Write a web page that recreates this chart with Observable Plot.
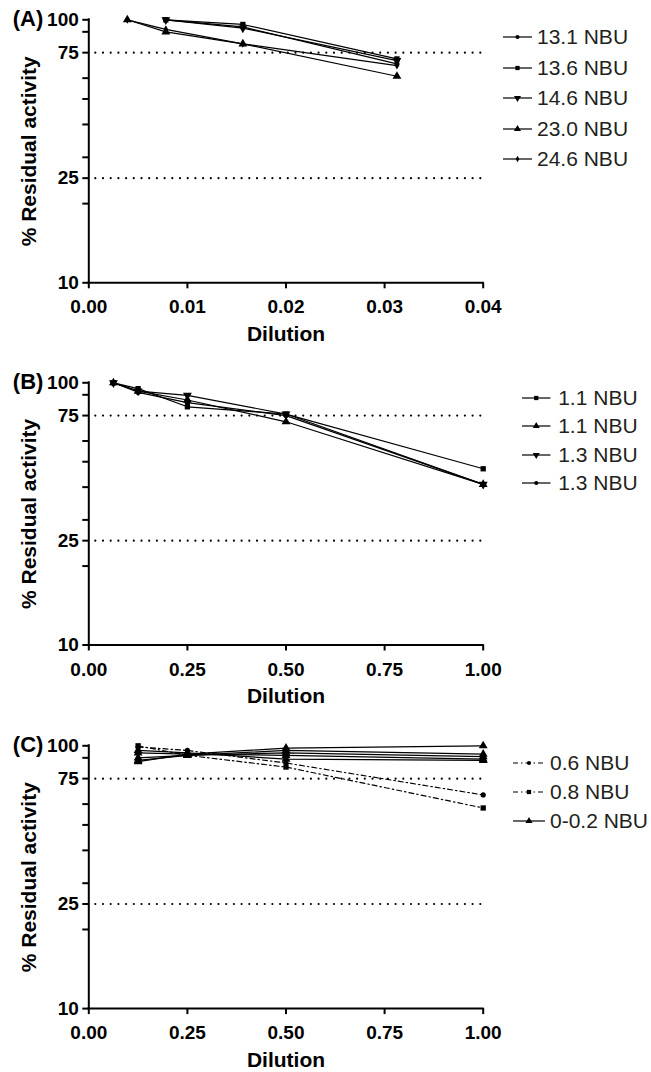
<!DOCTYPE html>
<html><head><meta charset="utf-8">
<script src="https://cdn.jsdelivr.net/npm/d3@7"></script>
<script src="https://cdn.jsdelivr.net/npm/@observablehq/plot@0.6"></script>
<style>
body{margin:0;background:#fff;}
#wrap{position:relative;width:651px;height:1072px;font-family:"Liberation Sans",Arial,sans-serif;overflow:hidden;}
.panel{position:absolute;left:0;}
.row{position:absolute;display:flex;align-items:center;white-space:nowrap;font-size:21px;color:#231f20;line-height:24px;}
.row svg{display:block;overflow:visible;}
</style></head><body><div id="wrap"></div><script>
// ---------- data ----------
// Panel A
const dilutionA = [1/256, 1/128, 1/64, 1/32];
const nbu131 = [null, 100, 94, 68];
const nbu136 = [null, 100, 96, 71];
const nbu146 = [null, 100, 93, 70];
const nbu230 = [100, 90, 81, 61];
const nbu246 = [100, 92, 81, 67];
const namesA = ["13.1 NBU", "13.6 NBU", "14.6 NBU", "23.0 NBU", "24.6 NBU"];
// Panel B
const dilutionB = [1/16, 1/8, 1/4, 1/2, 1];
const nbu11a = [100, 95, 81, 76, 47];
const nbu11b = [100, 93, 86, 71, 41];
const nbu13a = [100, 93, 89.5, 76, 41];
const nbu13b = [100, 92, 84, 75, 41];
const namesB = ["1.1 NBU", "1.1 NBU", "1.3 NBU", "1.3 NBU"];
// Panel C
const dilutionC = [1/8, 1/4, 1/2, 1];
const nbu06 = [99, 96, 86, 65];
const nbu08 = [100, 92, 83, 58];
const nbu0a = [94, 93, 98, 100];
const nbu0b = [88, 92, 96, 93];
const nbu0c = [90, 92, 94, 91];
const nbu0d = [87, 93, 92, 89];
const nbu0e = [96, 94, 89, 88];
const namesC = ["0.6 NBU", "0.8 NBU", "0-0.2 NBU"];
// axes
const yTicks = [10, 20, 25, 30, 40, 50, 60, 75, 90, 100];
const yLabelled = [10, 25, 75, 100];
const refLines = [75, 25];
const xTicksA = [0, 0.01, 0.02, 0.03, 0.04];
const xTicksB = [0, 0.25, 0.5, 0.75, 1];

// ---------- drawing ----------
const s3 = Math.sqrt(3);
const triDown = {draw(ctx, size){ const y = -Math.sqrt(size / (s3 * 3)); ctx.moveTo(0, -y * 2); ctx.lineTo(-s3 * y, y); ctx.lineTo(s3 * y, y); ctx.closePath(); }};
const SYM = {circle: d3.symbolCircle, square: d3.symbolSquare, triangle: d3.symbolTriangle, triDown: triDown, diamond: d3.symbolDiamond};
const RAD = {circle: 2.6, square: 3, triangle: 3.3, triDown: 3.3, diamond: 2.4};
const DASHDOT = "5,3,1.5,3";

const wrap = document.getElementById("wrap");
const W = 651, ML = 88.3, MR = 651 - 482.7;

function panel(cfg) {
  const marks = [];
  marks.push(Plot.ruleY(refLines, {x1: cfg.xDomain[0], x2: cfg.xDomain[1], stroke: "black", strokeWidth: 2.2, strokeDasharray: "0,7.7", strokeLinecap: "round", strokeDashoffset: -7}));
  cfg.series.forEach(s => {
    const d = [];
    s.values.forEach((v, j) => { if (v != null) d.push({x: cfg.xs[j], y: v}); });
    marks.push(Plot.line(d, {x: "x", y: "y", stroke: "black", strokeWidth: 1.2, strokeDasharray: s.dash || null}));
    marks.push(Plot.dot(d, {x: "x", y: "y", symbol: SYM[s.sym], r: RAD[s.sym], fill: "black", stroke: "none"}));
  });
  marks.push(Plot.ruleX([cfg.xDomain[0]], {y1: 10, y2: 100, stroke: "black", strokeWidth: 2, strokeLinecap: "square"}));
  marks.push(Plot.ruleY([10], {x1: cfg.xDomain[0], x2: cfg.xDomain[1], stroke: "black", strokeWidth: 2, strokeLinecap: "square"}));
  marks.push(Plot.axisY({ticks: yTicks, tickFormat: d => yLabelled.includes(d) ? String(d) : "", tickSize: 6, tickPadding: 4, strokeWidth: 2, label: null}));
  marks.push(Plot.axisX({ticks: cfg.xTicks, tickFormat: d3.format(".2f"), tickSize: 6, tickPadding: 11, strokeWidth: 2, label: null}));
  marks.push(Plot.text(["Dilution"], {text: d => d, frameAnchor: "bottom", dy: 58, lineAnchor: "bottom", textAnchor: "middle", fontSize: 21}));
  marks.push(Plot.text(["% Residual activity"], {text: d => d, frameAnchor: "left", dx: -53, rotate: -90, lineAnchor: "bottom", textAnchor: "middle", fontSize: 21}));
  marks.push(Plot.text([cfg.tag], {text: d => d, frameAnchor: "top-left", dx: -76, dy: 6, textAnchor: "start", lineAnchor: "bottom", fontSize: 22}));
  const svg = Plot.plot({
    width: W, height: cfg.mt + cfg.ph + cfg.mb,
    marginLeft: ML, marginRight: MR, marginTop: cfg.mt, marginBottom: cfg.mb,
    x: {domain: cfg.xDomain},
    y: {type: "log", domain: [10, 100]},
    style: {fontFamily: "'Liberation Sans', Arial, sans-serif", fontSize: "19px", fontWeight: "bold", color: "black", background: "transparent", overflow: "visible"},
    marks
  });
  svg.classList.add("panel");
  svg.style.top = cfg.top + "px";
  svg.style.position = "absolute";
  wrap.appendChild(svg);
  // legend
  cfg.legend.forEach((e, i) => {
    const row = document.createElement("div");
    row.className = "row";
    row.style.left = cfg.lg.x + "px";
    row.style.top = (cfg.lg.y0 + i * cfg.lg.dy - 12) + "px";
    const lw = cfg.lg.w;
    const ls = d3.create("svg").attr("width", lw).attr("height", 24);
    ls.append("line").attr("x1", 0).attr("x2", lw).attr("y1", 12).attr("y2", 12).attr("stroke", "black").attr("stroke-width", 1.2).attr("stroke-dasharray", e.dash || null);
    ls.append("path").attr("transform", `translate(${lw / 2},12)`).attr("d", d3.symbol(SYM[e.sym], Math.PI * Math.pow(RAD[e.sym] * 0.8, 2))()).attr("fill", "black");
    row.appendChild(ls.node());
    const t = document.createElement("span");
    t.textContent = e.name;
    t.style.marginLeft = cfg.lg.gap + "px";
    row.appendChild(t);
    wrap.appendChild(row);
  });
}

panel({
  tag: "(A)", top: 0, mt: 19.3, ph: 263, mb: 70,
  xs: dilutionA, xDomain: [0, 0.04], xTicks: xTicksA,
  series: [
    {values: nbu131, sym: "circle"}, {values: nbu136, sym: "square"}, {values: nbu146, sym: "triDown"},
    {values: nbu230, sym: "triangle"}, {values: nbu246, sym: "diamond"}
  ],
  legend: [
    {name: namesA[0], sym: "circle"}, {name: namesA[1], sym: "square"}, {name: namesA[2], sym: "triDown"},
    {name: namesA[3], sym: "triangle"}, {name: namesA[4], sym: "diamond"}
  ],
  lg: {x: 503, w: 29, gap: 5, y0: 37.3, dy: 30.5}
});
panel({
  tag: "(B)", top: 363, mt: 19.3, ph: 262.2, mb: 70,
  xs: dilutionB, xDomain: [0, 1], xTicks: xTicksB,
  series: [
    {values: nbu11a, sym: "square"}, {values: nbu11b, sym: "triangle"},
    {values: nbu13a, sym: "triDown"}, {values: nbu13b, sym: "circle"}
  ],
  legend: [
    {name: namesB[0], sym: "square"}, {name: namesB[1], sym: "triangle"},
    {name: namesB[2], sym: "triDown"}, {name: namesB[3], sym: "circle"}
  ],
  lg: {x: 521.7, w: 28.5, gap: 8, y0: 398.3, dy: 28.1}
});
panel({
  tag: "(C)", top: 726.4, mt: 19.3, ph: 262.8, mb: 63.5,
  xs: dilutionC, xDomain: [0, 1], xTicks: xTicksB,
  series: [
    {values: nbu0a, sym: "triangle"}, {values: nbu0b, sym: "triangle"}, {values: nbu0c, sym: "triangle"},
    {values: nbu0d, sym: "triangle"}, {values: nbu0e, sym: "triangle"},
    {values: nbu06, sym: "circle", dash: DASHDOT}, {values: nbu08, sym: "square", dash: DASHDOT}
  ],
  legend: [
    {name: namesC[0], sym: "circle", dash: DASHDOT}, {name: namesC[1], sym: "square", dash: DASHDOT},
    {name: namesC[2], sym: "triangle"}
  ],
  lg: {x: 513, w: 32, gap: 5, y0: 763.3, dy: 28.7}
});
</script></body></html>
